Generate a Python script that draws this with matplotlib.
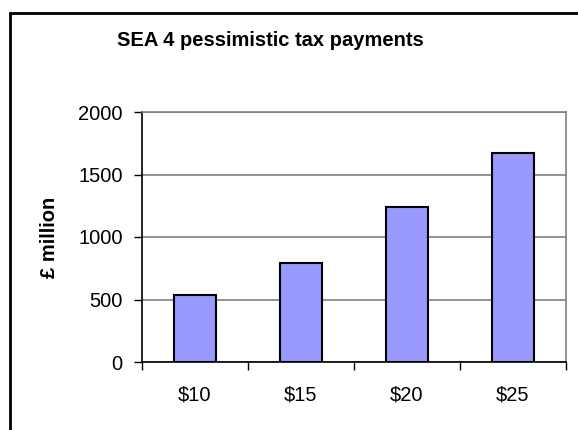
import matplotlib
matplotlib.use("Agg")
import matplotlib.pyplot as plt
from matplotlib.patches import Rectangle
from matplotlib.ticker import FixedLocator

plt.rcParams['font.family'] = ['Liberation Sans', 'DejaVu Sans']

prices = ["$10", "$15", "$20", "$25"]
payments = [536, 790, 1240, 1670]
yticks = [0, 500, 1000, 1500, 2000]

W, H = 578, 430
fig = plt.figure(figsize=(W / 100, H / 100), dpi=100)
ax = fig.add_axes([142 / W, 68 / H, 424 / W, 250 / H])

xs = list(range(len(prices)))
ax.bar(xs, payments, width=0.4, color="#9999FF", edgecolor="black",
       linewidth=1.5, zorder=3)

ax.set_xlim(-0.5, len(prices) - 0.5)
ax.set_ylim(0, 2000)

# category boundaries get the tick marks, centres get the labels
ax.xaxis.set_major_locator(FixedLocator([i - 0.5 for i in range(len(prices) + 1)]))
ax.xaxis.set_minor_locator(FixedLocator(xs))
ax.set_xticklabels([], minor=False)
ax.set_xticklabels(prices, minor=True, fontsize=14.5)
ax.tick_params(axis="x", which="major", direction="out", length=6, width=1)
ax.tick_params(axis="x", which="minor", length=0, pad=17)

ax.set_yticks(yticks)
ax.set_yticklabels([str(v) for v in yticks], fontsize=14.5)
ax.tick_params(axis="y", direction="out", length=6, width=1, pad=8)

ax.yaxis.grid(True, color="#808080", linewidth=1.2, zorder=0)
ax.set_axisbelow(True)

for side in ("left", "bottom"):
    ax.spines[side].set_color("black")
    ax.spines[side].set_linewidth(1.2)
for side in ("top", "right"):
    ax.spines[side].set_color("#808080")
    ax.spines[side].set_linewidth(1.2)

fig.text(270 / W, 1 - 40 / H, "SEA 4 pessimistic tax payments",
         ha="center", va="center", fontsize=14.5, fontweight="bold")
fig.text(50 / W, 1 - 237 / H, "£ million", rotation=90,
         ha="center", va="center", fontsize=14.5, fontweight="bold")

# chart frame, running off the right and bottom edges
fig.patches.append(Rectangle((10 / W, -0.1), 1.0, 1.1 - 13 / H,
                             transform=fig.transFigure, fill=False,
                             edgecolor="black", linewidth=2, clip_on=False))

fig.savefig("out.png", dpi=100)
